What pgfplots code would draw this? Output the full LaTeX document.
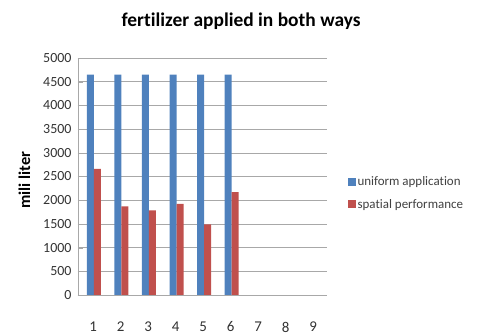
\documentclass[border=0pt]{standalone}
\usepackage{pgfplots}
\pgfplotsset{compat=1.18}
\usepackage{fontspec}
\setmainfont{Carlito}[Ligatures=NoCommon]
\definecolor{xblue}{HTML}{4F81BD}
\definecolor{xred}{HTML}{C0504D}
\definecolor{gridgray}{HTML}{A8A8A8}
\begin{document}
\begin{tikzpicture}
\useasboundingbox (-78bp,-40bp) rectangle (406bp,295bp);
\begin{axis}[
  at={(0,0)}, anchor=south west,
  scale only axis,
  width=249bp, height=237bp,
  xmin=0.42, xmax=9.47,
  ymin=0, ymax=5000,
  ytick={0,500,...,5000},
  xtick={1,...,9},
  ybar=0pt, bar width=7bp,
  axis x line=none,
  axis y line*=left,
  axis line style={gridgray, -},
  ymajorgrids, grid style={gridgray, line width=0.6pt},
  major tick length=5bp,
  ytick style={gridgray},
  xtick style={draw=none},
  /pgf/number format/assume math mode=true,
  /pgf/number format/1000 sep={},
  yticklabel style={font=\fontsize{14}{16}\selectfont, text=black!80, xshift=-3bp},
  clip=false,
  ylabel={\textbf{mili liter}},
  ylabel style={font=\fontsize{16.5}{18}\selectfont, at={(axis description cs:-0.215,0.485)}, anchor=center},
  title={\textbf{fertilizer applied in both ways}},
  title style={font=\fontsize{19.5}{21}\selectfont, at={(axis description cs:0.655,1.13)}, anchor=center},
  legend style={draw=none, fill=none, at={(axis description cs:1.07,0.43)}, anchor=west,
    font=\fontsize{13}{15}\selectfont, text=black!75, row sep=8bp,
    /tikz/every even column/.append style={column sep=1bp}},
  legend cell align=left,
  legend image code/.code={\fill[#1] (0bp,-4bp) rectangle (8bp,4bp);},
]
\addplot[fill=xblue, draw=none] coordinates {(1,4650) (2,4650) (3,4650) (4,4650) (5,4650) (6,4650)};
\addplot[fill=xred, draw=none] coordinates {(1,2660) (2,1870) (3,1785) (4,1925) (5,1490) (6,2170)};
\legend{uniform application, spatial performance}
\draw[gridgray, line width=0.6pt] (axis cs:0.42,0) -- (axis cs:9.47,0);
\end{axis}
\begin{axis}[
  at={(0,0)}, anchor=south west,
  scale only axis,
  width=249bp, height=237bp,
  xmin=0.42, xmax=9.47, ymin=0, ymax=5000,
  hide y axis, axis x line*=bottom, x axis line style={draw=none},
  xtick={1,...,9}, xtick style={draw=none},
  /pgf/number format/assume math mode=true,
  xticklabel style={font=\fontsize{15}{17}\selectfont, text=black!80, anchor=center, yshift=-32bp, xshift=-0.8bp},
]
\addplot[draw=none] coordinates {(1,0) (9,0)};
\end{axis}
\end{tikzpicture}
\end{document}
